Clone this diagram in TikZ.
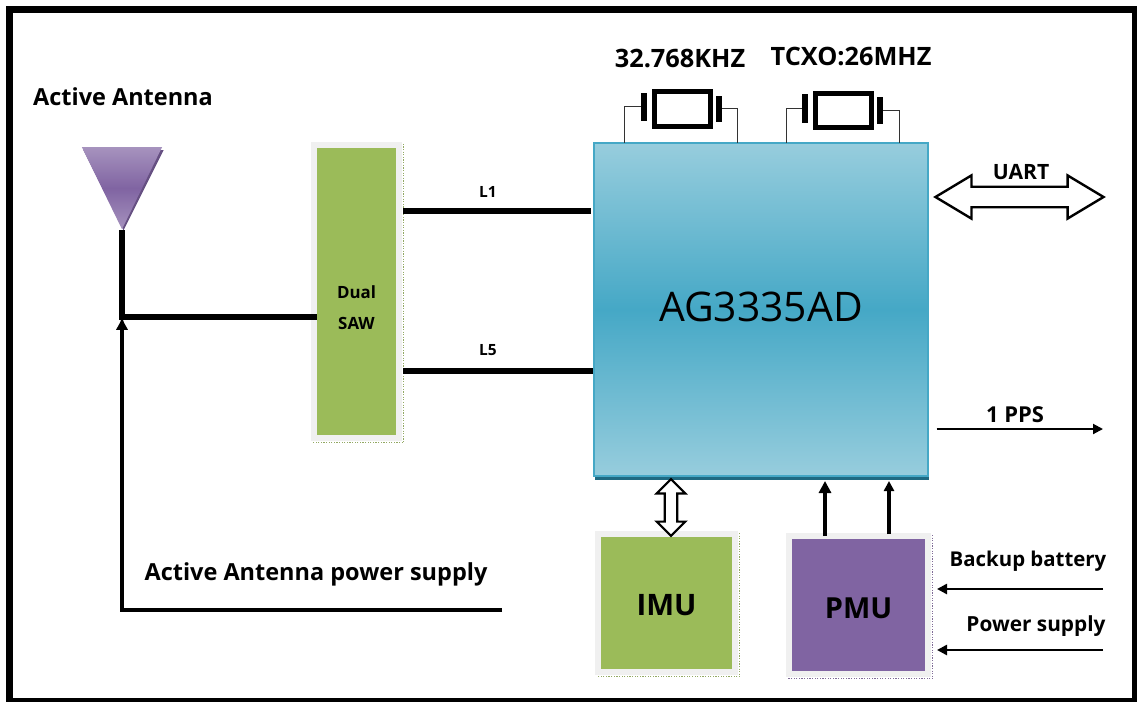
\documentclass[tikz,border=0pt]{standalone}
\usepackage{fontspec}
\setmainfont{Open Sans}
\usetikzlibrary{shapes, arrows.meta}
\definecolor{sawgreen}{HTML}{9BBB59}
\definecolor{pmupurple}{HTML}{8064A2}
\definecolor{halogrey}{HTML}{F0F0F0}
\definecolor{chiplight}{HTML}{97CDDD}
\definecolor{chipmid}{HTML}{45A8C6}
\definecolor{chipedge}{HTML}{1F6A82}
\tikzset{
	halobox/.style={rectangle, draw=halogrey, line width=0.15cm, inner sep=0, outer sep=-0.075cm, font=\bfseries},
	plate/.style={rectangle, fill=black, minimum width=0.14cm, inner sep=0},
	lead/.style={draw=black!80, line width=0.025cm},
	txt/.style={font=\bfseries\fontsize{16.7}{16.7}\selectfont, inner sep=0}
}
\begin{document}
\begin{tikzpicture}[x=0.025cm, y=-0.025cm]
		\useasboundingbox (0, 0) rectangle (1137, 702);
		\draw[line width=0.175cm] (9.5, 9.5) rectangle (1135, 701);
		\node(CHIPBASE) at (762, 312.5)[rectangle, fill=chipedge, minimum width=8.35cm, minimum height=8.35cm, inner sep=0]{};
		\node(CHIP) at (761, 309.5)[rectangle, draw=chipmid, line width=0.03cm, top color=chiplight, bottom color=chiplight, middle color=chipmid, minimum width=8.35cm, minimum height=8.32cm, inner sep=0, font=\fontsize{29}{29}\selectfont, text height=0.73cm, text depth=0.125cm]{AG3335AD};
		\node(SAW) at (356.5, 291.5)[halobox, fill=sawgreen, minimum width=2.125cm, minimum height=7.33cm]{};
		\node(IMU) at (666.5, 603)[halobox, fill=sawgreen, minimum width=3.43cm, minimum height=3.45cm, font=\bfseries\fontsize{21}{21}\selectfont, text height=0.63cm, text depth=0cm]{IMU};
		\node(PMU) at (858.5, 605)[halobox, fill=pmupurple, minimum width=3.48cm, minimum height=3.45cm, font=\bfseries\fontsize{20.6}{21}\selectfont, text height=0.668cm, text depth=0cm]{PMU};
		\foreach \blk/\col in {SAW/sawgreen, IMU/sawgreen, PMU/pmupurple}
			\draw[densely dotted, \col!70!gray, line width=0.03cm] ([xshift=0.19cm, yshift=0.1cm]\blk.north east)--([xshift=0.19cm, yshift=-0.19cm]\blk.south east)--([xshift=-0.1cm, yshift=-0.19cm]\blk.south west);
		% antenna
		\node(ANTBACK) at (123.5, 231)[isosceles triangle, shape border rotate=-90, anchor=apex, isosceles triangle stretches, minimum width=2cm, minimum height=2cm, inner sep=0, fill=pmupurple!80!black]{};
		\node(ANT) at (122, 230)[isosceles triangle, shape border rotate=-90, anchor=apex, isosceles triangle stretches, minimum width=2cm, minimum height=2.05cm, inner sep=0, top color=pmupurple!70, bottom color=pmupurple!70, middle color=pmupurple]{};
		\coordinate(JOIN) at (122, 317);
		\coordinate(SUPPLY) at (502, 610);
		\draw[line width=0.13cm] (ANT.apex)--(JOIN)--(JOIN-|SAW.west);
		\draw[line width=0.1cm, -{Latex[length=0.32cm, width=0.32cm]}] (SUPPLY)-|(JOIN);
		% crystals
		\foreach \n/\cx/\cy/\dl/\dr in {XA/682/109/-58/55, XB/843/110.5/-57/56}{
			\node(\n) at (\cx, \cy)[rectangle, draw, line width=0.125cm, minimum width=1.4cm, minimum height=0.85cm, inner sep=0, fill=white]{};
			\node(\n L) at (\cx-38, \cy-2)[plate, minimum height=0.7cm]{};
			\node(\n R) at (\cx+37, \cy)[plate, minimum height=0.65cm]{};
			\draw[lead] (\n L.west)-|(\cx+\dl, 143);
			\draw[lead] (\n R.east)-|(\cx+\dr, 143);
		}
		% signals
		\coordinate(LONE) at (403, 211);
		\coordinate(LFIVE) at (403, 371);
		\coordinate(PPSOUT) at (1103, 429);
		\coordinate(BATIN) at (1103, 589);
		\coordinate(PWRIN) at (1103, 650);
		\draw[line width=0.15cm, shorten >=0.07cm] (LONE)--(LONE-|CHIP.west);
		\draw[line width=0.15cm] (LFIVE)--(LFIVE-|CHIP.west);
		\node(UARTA) at (1019.5, 197)[double arrow, draw, line width=0.06cm, fill=white, inner sep=0, text width=0cm, text height=0.45cm, text depth=0cm, minimum height=4.2cm, double arrow head extend=0.285cm, double arrow tip angle=62]{};
		\node(IMUA) at (671, 507.5)[double arrow, rotate=90, draw, line width=0.055cm, fill=white, inner sep=0, text width=0cm, text height=0.26cm, text depth=0cm, minimum height=1.42cm, double arrow head extend=0.2cm]{};
		\draw[line width=0.1cm, -{Triangle[length=0.3cm, width=0.3cm]}] (825, 536)--(825, 481);
		\draw[line width=0.08cm, -{Triangle[length=0.25cm, width=0.25cm]}] (889, 534)--(889, 481);
		\draw[line width=0.05cm, -{Triangle[length=0.25cm, width=0.25cm]}] ([xshift=0.2cm]CHIP.east|-PPSOUT)--(PPSOUT);
		\draw[line width=0.07cm, -{Triangle[length=0.25cm, width=0.25cm]}] (BATIN)--(937, 589);
		\draw[line width=0.07cm, -{Triangle[length=0.25cm, width=0.25cm]}] (PWRIN)--(937, 650);
		% labels
		\node(TANT) at (123, 97)[txt]{Active Antenna};
		\node(TSUP) at (316, 574)[txt]{Active Antenna power supply};
		\node(TXA) at (680, 59)[txt, font=\bfseries\fontsize{18}{18}\selectfont]{32.768KHZ};
		\node(TXB) at (851, 56)[txt, font=\bfseries\fontsize{18}{18}\selectfont]{TCXO:26MHZ};
		\node(TSAW) at (356.5, 307.5)[txt, align=center, font=\bfseries\fontsize{12}{22}\selectfont]{Dual\\SAW};
		\node(TLA) at (488, 192)[txt, font=\bfseries\fontsize{11}{11}\selectfont]{L1};
		\node(TLB) at (488, 350)[txt, font=\bfseries\fontsize{11}{11}\selectfont]{L5};
		\node(TUART) at (1021, 172)[txt, font=\bfseries\fontsize{15}{15}\selectfont]{UART};
		\node(TPPS) at (1015, 415)[txt, font=\bfseries\fontsize{15.6}{16}\selectfont]{1 PPS};
		\node(TBAT) at (1028, 561)[txt, font=\bfseries\fontsize{14.5}{15}\selectfont]{Backup battery};
		\node(TPWR) at (1036, 626)[txt, font=\bfseries\fontsize{14.8}{15}\selectfont]{Power supply};
		\end{tikzpicture}
\end{document}
